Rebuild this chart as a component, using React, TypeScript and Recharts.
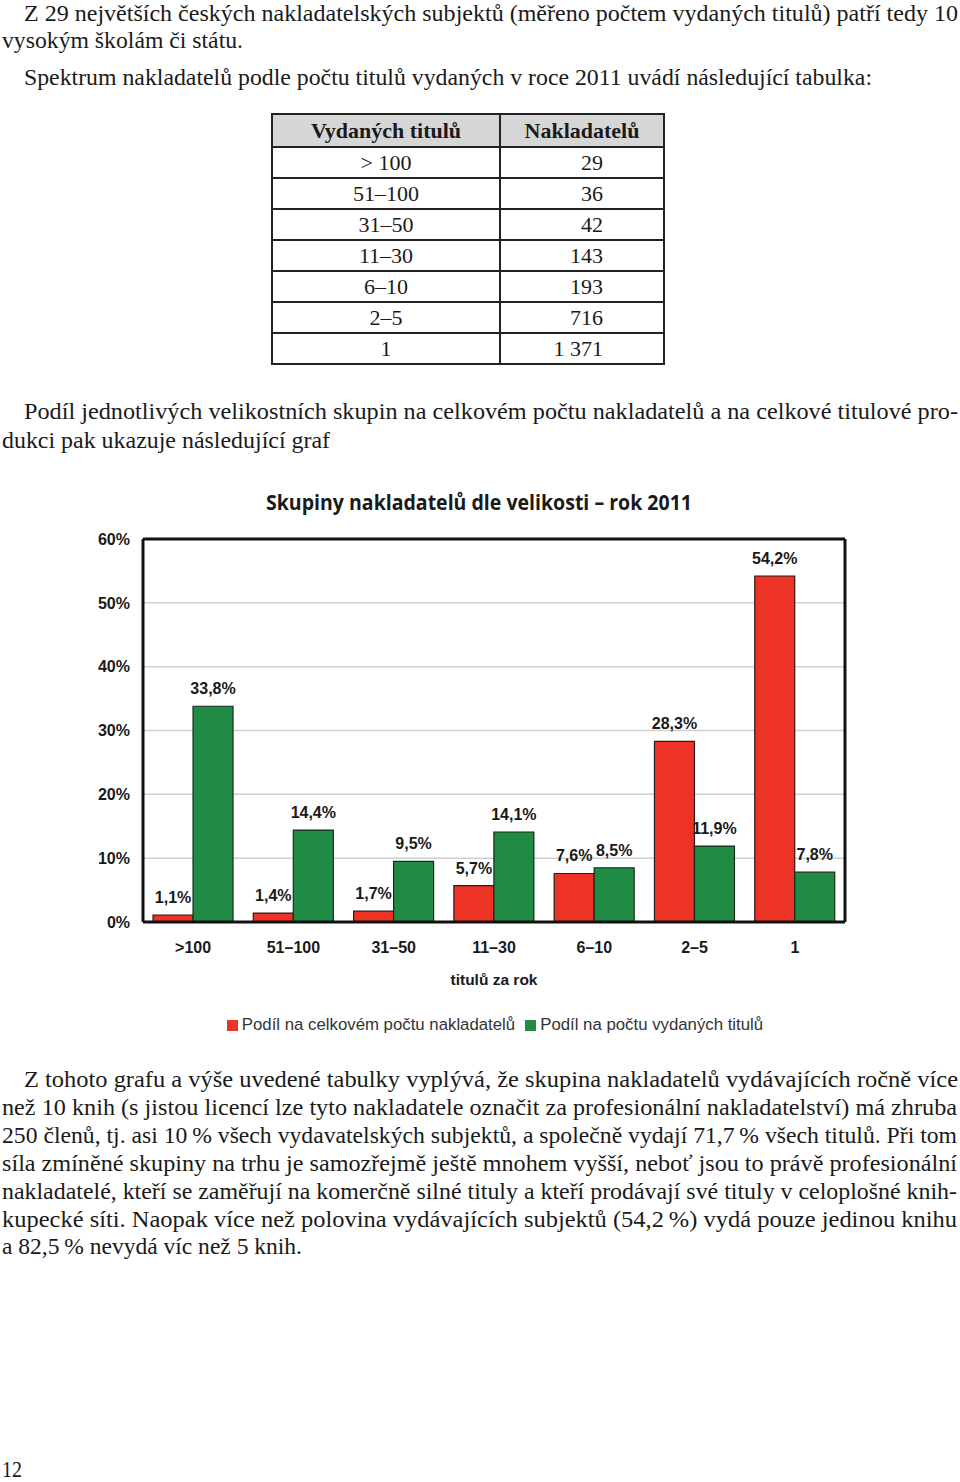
import React from 'react';
import { BarChart, Bar, XAxis, YAxis, CartesianGrid, Legend, LabelList, ReferenceLine } from 'recharts';

const categories = ['>100', '51–100', '31–50', '11–30', '6–10', '2–5', '1'];
const podilNakladatelu = [1.1, 1.4, 1.7, 5.7, 7.6, 28.3, 54.2];
const podilTitulu = [33.8, 14.4, 9.5, 14.1, 8.5, 11.9, 7.8];
const yTicks = [0, 10, 20, 30, 40, 50, 60];

const tableRows = [
  ['> 100', '29'],
  ['51–100', '36'],
  ['31–50', '42'],
  ['11–30', '143'],
  ['6–10', '193'],
  ['2–5', '716'],
  ['1', '1 371'],
];

// text lines of the page: [text, x, baseline, width]
const pageLines: Array<[string, number, number, number]> = [
  ['Z 29 největších českých nakladatelských subjektů (měřeno počtem vydaných titulů) patří tedy 10', 24, 21, 934],
  ['vysokým školám či státu.', 2, 48, 241],
  ['Spektrum nakladatelů podle počtu titulů vydaných v roce 2011 uvádí následující tabulka:', 24, 85, 848],
  ['Podíl jednotlivých velikostních skupin na celkovém počtu nakladatelů a na celkové titulové pro-', 24, 419, 934],
  ['dukci pak ukazuje následující graf', 2, 448, 328],
  ['Z tohoto grafu a výše uvedené tabulky vyplývá, že skupina nakladatelů vydávajících ročně více', 24, 1087, 934],
  ['než 10 knih (s jistou licencí lze tyto nakladatele označit za profesionální nakladatelství) má zhruba', 2, 1115, 955],
  ['250 členů, tj. asi 10\u2009% všech vydavatelských subjektů, a společně vydají 71,7\u2009% všech titulů. Při tom', 2, 1143, 955],
  ['síla zmíněné skupiny na trhu je samozřejmě ještě mnohem vyšší, neboť jsou to právě profesionální', 2, 1171, 955],
  ['nakladatelé, kteří se zaměřují na komerčně silné tituly a kteří prodávají své tituly v celoplošné knih-', 2, 1199, 955],
  ['kupecké síti. Naopak více než polovina vydávajících subjektů (54,2\u2009%) vydá pouze jedinou knihu', 2, 1227, 955],
  ['a 82,5\u2009% nevydá víc než 5 knih.', 2, 1254, 300],
  ['12', 2, 1477, 20],
];

const chartData = categories.map((cat, i) => ({
  cat,
  nakladatele: podilNakladatelu[i],
  tituly: podilTitulu[i],
}));

const sans = '"Liberation Sans", Arial, sans-serif';
const serif = '"Liberation Serif", "Times New Roman", serif';
const fmt = (v: any) => String(v).replace('.', ',') + '%';

const PageText = () => (
  <svg width={960} height={1482} style={{ position: 'absolute', left: 0, top: 0 }}>
    {pageLines.map(([t, x, y, w], i) => (
      <text key={i} x={x} y={y} fontFamily={serif} fontSize={t.length > 100 ? 22.5 : 24} fill="#1a1a1a"
        textLength={w} lengthAdjust="spacingAndGlyphs">{t}</text>
    ))}
    <text x={266} y={510} fontFamily='"Open Sans", sans-serif' fontWeight={700} fontSize={21}
      fill="#1a1a1a" textLength={426} lengthAdjust="spacingAndGlyphs">
      Skupiny nakladatelů dle velikosti – rok 2011
    </text>
  </svg>
);

const cell: React.CSSProperties = { border: '2px solid #222', padding: 0, height: 29 };

const Table = () => (
  <table style={{ position: 'absolute', left: 271, top: 113, width: 394, borderCollapse: 'collapse', fontFamily: serif, fontSize: 22, color: '#1a1a1a' }}>
    <thead>
      <tr style={{ background: '#d6d6d6' }}>
        <th style={{ ...cell, width: 226, height: 31 }}>Vydaných titulů</th>
        <th style={{ ...cell, height: 31 }}>Nakladatelů</th>
      </tr>
    </thead>
    <tbody>
      {tableRows.map(([a, b]) => (
        <tr key={a}>
          <td style={{ ...cell, textAlign: 'center' }}>{a}</td>
          <td style={{ ...cell, textAlign: 'right', paddingRight: 60 }}>{b}</td>
        </tr>
      ))}
    </tbody>
  </table>
);

const tickStyle = { fontFamily: sans, fontWeight: 700, fontSize: 16, fill: '#1a1a1a' };

export default function App() {
  return (
    <div style={{ position: 'absolute', left: 0, top: 0, width: 960, height: 1482, background: '#fff' }}>
      <PageText />
      <Table />
      <div style={{ position: 'absolute', left: 0, top: 520 }}>
        <BarChart width={960} height={530} data={chartData} barCategoryGap="10%" barGap={0}
          margin={{ top: 19, right: 113, bottom: 7, left: 0 }}>
          <CartesianGrid vertical={false} stroke="#cfcfcf" strokeWidth={1.5} />
          <XAxis dataKey="cat" tickSize={0} tickMargin={20} height={85} tick={tickStyle}
            axisLine={{ stroke: '#111', strokeWidth: 3 }}
            label={{ value: 'titulů za rok', position: 'insideBottom', offset: 22, style: { ...tickStyle, fontSize: 15.5 } }} />
          <YAxis domain={[0, 60]} ticks={yTicks} width={143} tickSize={0} tickMargin={13}
            tick={tickStyle} tickFormatter={(v) => v + '%'} axisLine={{ stroke: '#111', strokeWidth: 3 }} />
          <YAxis yAxisId="right" orientation="right" domain={[0, 60]} width={2} tick={false}
            tickLine={false} axisLine={{ stroke: '#111', strokeWidth: 3 }} />
          <ReferenceLine y={60} stroke="#111" strokeWidth={3} />
          <Legend verticalAlign="bottom" iconType="square" iconSize={11}
            wrapperStyle={{ left: 34, width: 932, height: 36, lineHeight: '36px', fontFamily: sans, fontSize: 16.8 }}
            formatter={(value) => <span style={{ color: '#333' }}>{value}</span>} />
          <Bar dataKey="nakladatele" name="Podíl na celkovém počtu nakladatelů" fill="#ec3325"
            stroke="#2a1a1a" strokeWidth={1.2} isAnimationActive={false}>
            <LabelList dataKey="nakladatele" position="top" offset={12} formatter={fmt} style={tickStyle} />
          </Bar>
          <Bar dataKey="tituly" name="Podíl na počtu vydaných titulů" fill="#1f8b44"
            stroke="#1a2a1a" strokeWidth={1.2} isAnimationActive={false}>
            <LabelList dataKey="tituly" position="top" offset={12} formatter={fmt} style={tickStyle} />
          </Bar>
        </BarChart>
      </div>
    </div>
  );
}
